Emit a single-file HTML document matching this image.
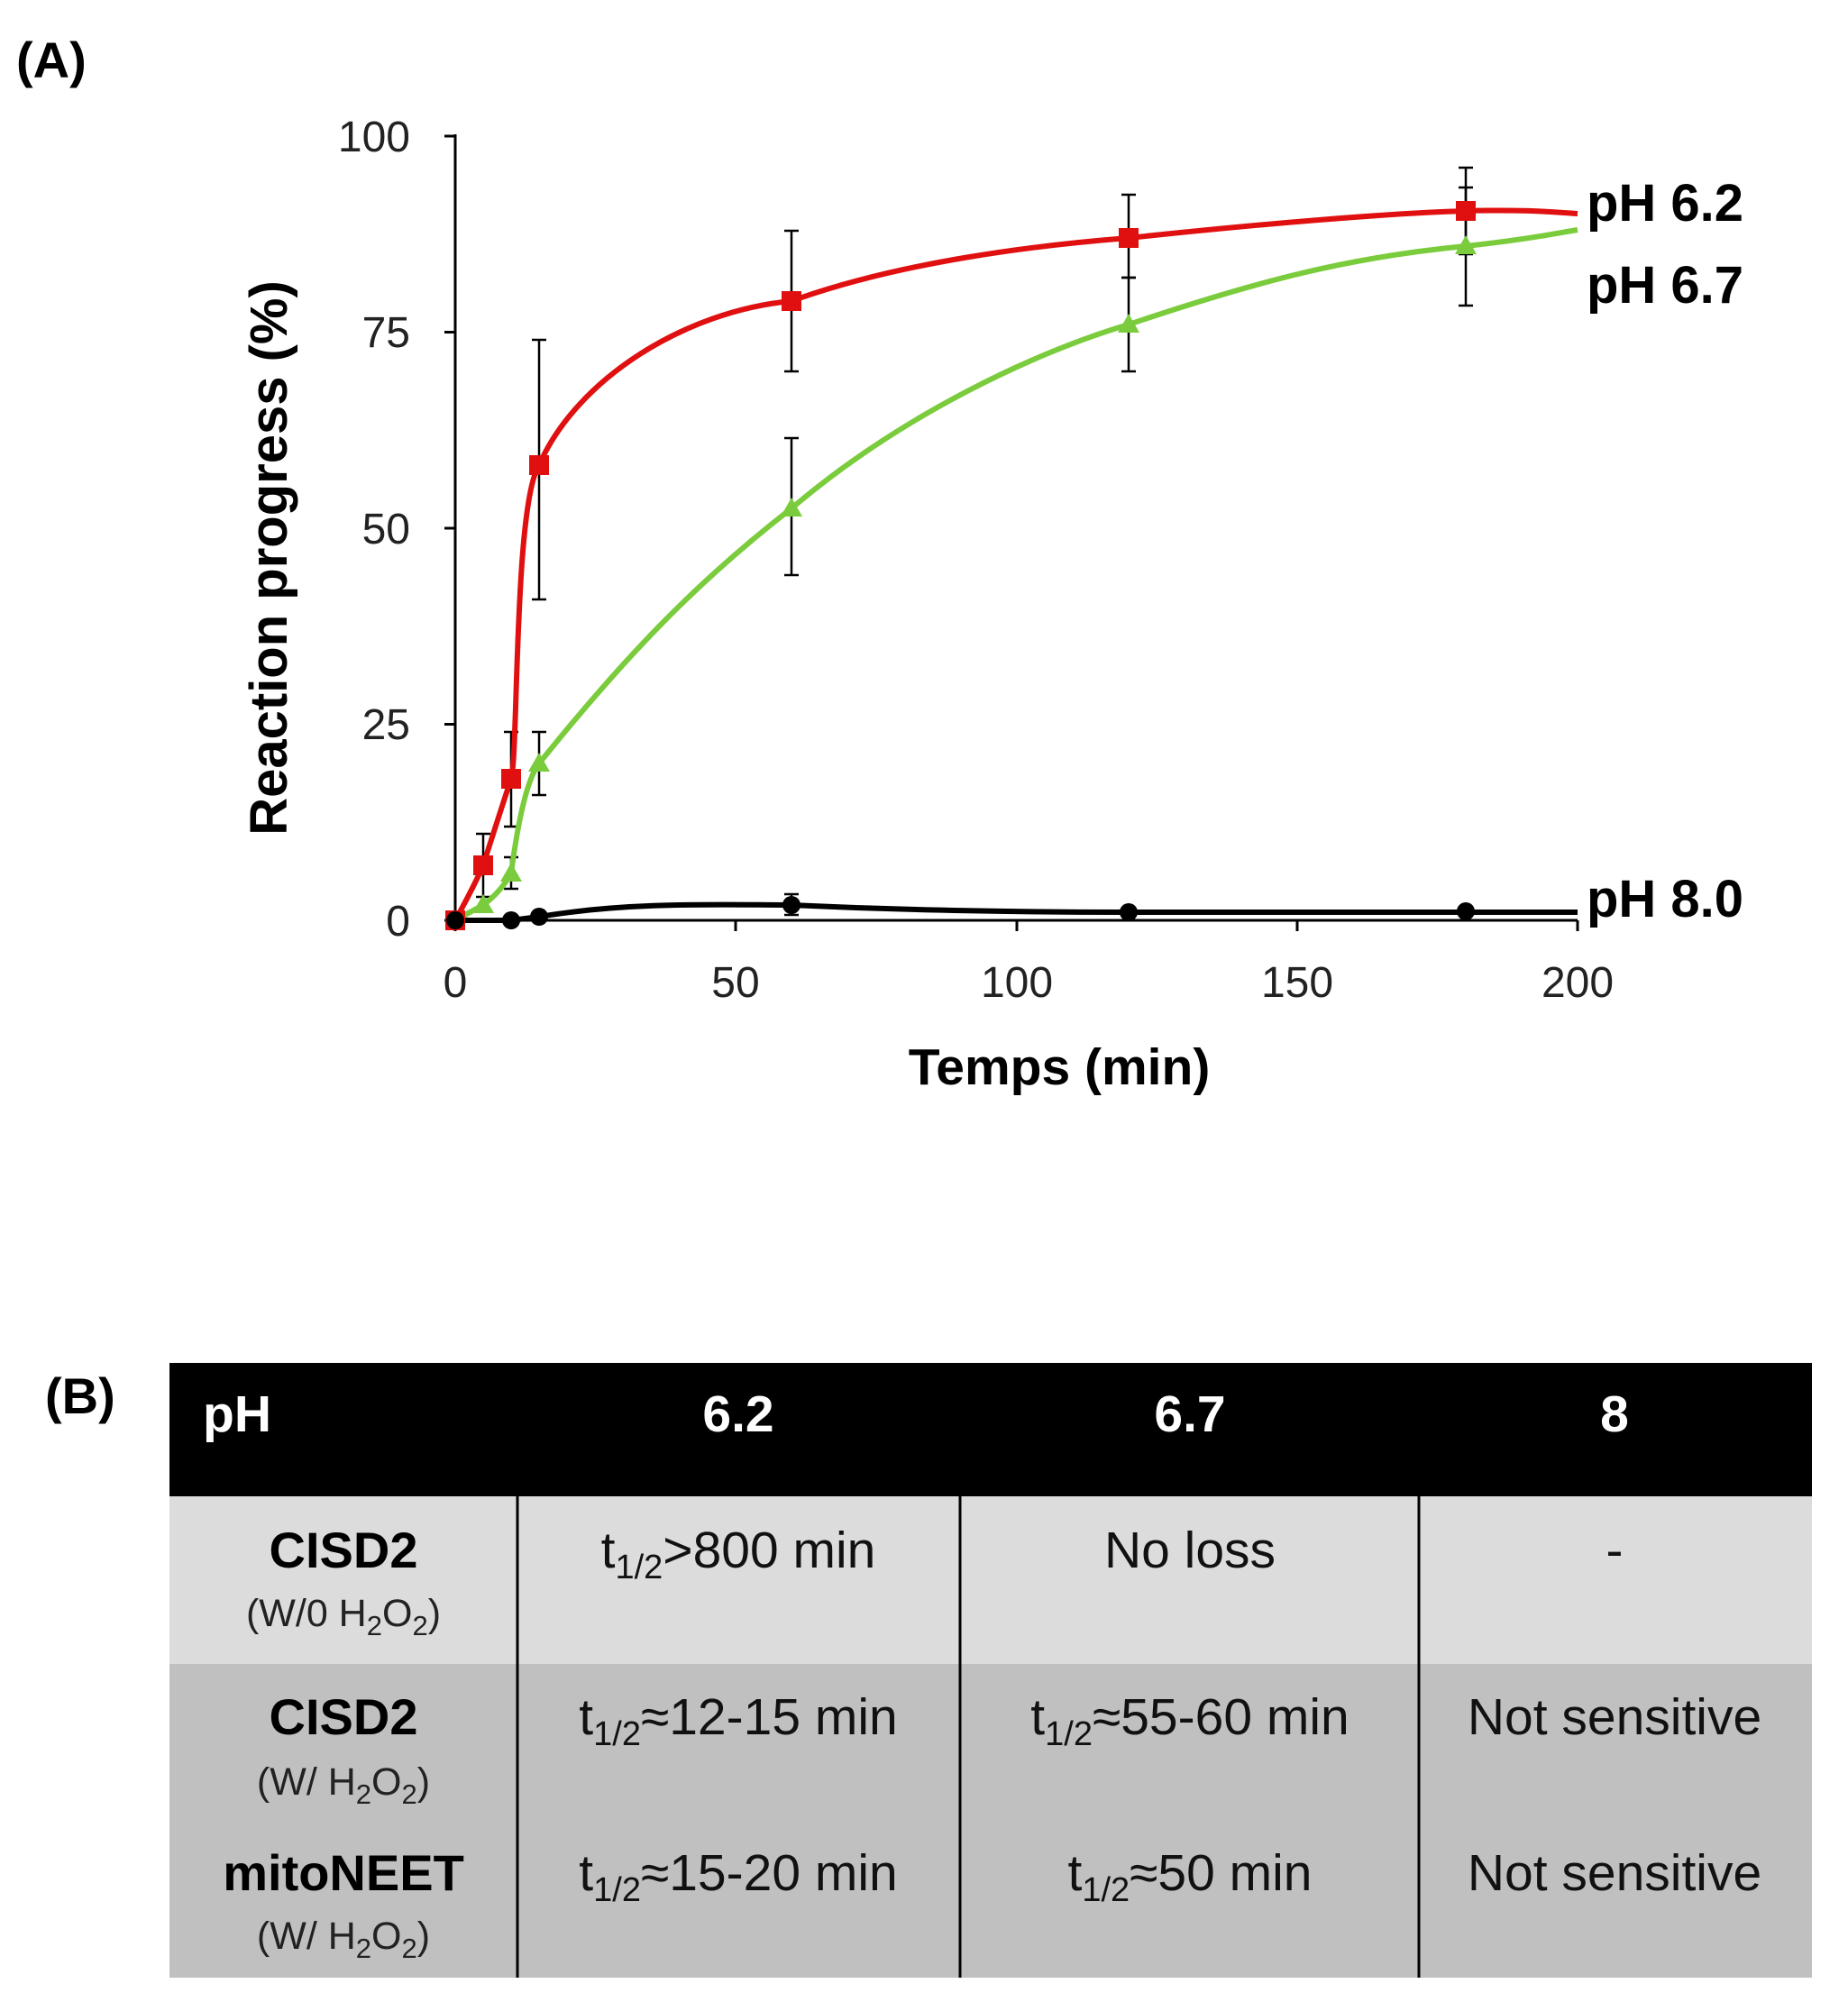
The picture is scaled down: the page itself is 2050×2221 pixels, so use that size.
<!DOCTYPE html>
<html><head><style>
body{margin:0;background:#fff;}
svg{display:block;font-family:"Liberation Sans",Arial,sans-serif;}
</style></head><body>
<svg width="2050" height="2221" viewBox="0 0 2050 2221" xmlns="http://www.w3.org/2000/svg">
<rect width="2050" height="2221" fill="#fff"/>
<text x="18" y="86" font-size="56" font-weight="bold">(A)</text>
<g stroke="#000" stroke-width="3" fill="none">
<line x1="505" y1="149" x2="505" y2="1023"/>
<line x1="503" y1="1021" x2="1750" y2="1021"/>
<line x1="493" y1="151" x2="505" y2="151"/>
<line x1="493" y1="368.5" x2="505" y2="368.5"/>
<line x1="493" y1="586" x2="505" y2="586"/>
<line x1="493" y1="803.5" x2="505" y2="803.5"/>
<line x1="493" y1="1021" x2="505" y2="1021"/>
<line x1="505" y1="1021" x2="505" y2="1033"/>
<line x1="816" y1="1021" x2="816" y2="1033"/>
<line x1="1128" y1="1021" x2="1128" y2="1033"/>
<line x1="1439" y1="1021" x2="1439" y2="1033"/>
<line x1="1750" y1="1021" x2="1750" y2="1033"/>
</g>
<g font-size="48" text-anchor="end" fill="#222">
<text x="455" y="168">100</text>
<text x="455" y="385">75</text>
<text x="455" y="603">50</text>
<text x="455" y="820">25</text>
<text x="455" y="1038">0</text>
</g>
<g font-size="48" text-anchor="middle" fill="#222">
<text x="505" y="1106">0</text>
<text x="816" y="1106">50</text>
<text x="1128" y="1106">100</text>
<text x="1439" y="1106">150</text>
<text x="1750" y="1106">200</text>
</g>
<text x="1175" y="1203" font-size="57" font-weight="bold" text-anchor="middle">Temps (min)</text>
<text transform="translate(318,619) rotate(-90)" font-size="58" font-weight="bold" text-anchor="middle">Reaction progress (%)</text>
<g stroke="#000" stroke-width="2.5" fill="none">
<path d="M536,995V925M528,995h16M528,925h16"/>
<path d="M567,917V812M559,917h16M559,812h16"/>
<path d="M598,665V377M590,665h16M590,377h16"/>
<path d="M878,412V256M870,412h16M870,256h16"/>
<path d="M1252,308V216M1244,308h16M1244,216h16"/>
<path d="M1626,282V186M1618,282h16M1618,186h16"/>
<path d="M567,986V951M559,986h16M559,951h16"/>
<path d="M598,882V812M590,882h16M590,812h16"/>
<path d="M878,638V486M870,638h16M870,486h16"/>
<path d="M1252,412V308M1244,412h16M1244,308h16"/>
<path d="M1626,339V208M1618,339h16M1618,208h16"/>
<path d="M878,1015V992M870,1015h16M870,992h16"/>
</g>
<path d="M505,1021 L536,1004 Q555,990 567,969 Q580,870 598,847 C700,720 780,640 878,564 C1000,460 1150,390 1252,360 C1400,310 1500,285 1626,273 C1700,265 1730,258 1750,255" stroke="#7acc3c" stroke-width="6" fill="none"/>
<path d="M505,1021 Q525,985 536,960 Q555,900 567,864 C575,840 570,560 598,516 C640,420 760,345 878,334 C1000,290 1150,272 1252,264 C1400,248 1550,236 1626,234 C1700,232 1730,236 1750,237" stroke="#e01010" stroke-width="6" fill="none"/>
<path d="M505,1021 L567,1021 L598,1017 C700,1000 800,1004 878,1004 C1000,1010 1150,1012 1252,1012 L1750,1012" stroke="#000" stroke-width="6" fill="none"/>
<g fill="#e01010">
<rect x="525" y="949" width="22" height="22"/><rect x="556" y="853" width="22" height="22"/>
<rect x="587" y="505" width="22" height="22"/><rect x="867" y="323" width="22" height="22"/>
<rect x="1241" y="253" width="22" height="22"/><rect x="1615" y="223" width="22" height="22"/>
<rect x="494" y="1010" width="22" height="22"/>
</g>
<g fill="#7acc3c">
<path d="M536,992l12,21h-24z"/><path d="M567,957l12,21h-24z"/><path d="M598,835l12,21h-24z"/>
<path d="M878,552l12,21h-24z"/><path d="M1252,348l12,21h-24z"/><path d="M1626,261l12,21h-24z"/>
</g>
<g fill="#000">
<circle cx="505" cy="1021" r="10"/><circle cx="567" cy="1021" r="10"/><circle cx="598" cy="1017" r="10"/>
<circle cx="878" cy="1004" r="10"/><circle cx="1252" cy="1012" r="10"/><circle cx="1626" cy="1011" r="10"/>
</g>
<g font-size="58" font-weight="bold">
<text x="1760" y="245">pH 6.2</text>
<text x="1760" y="336">pH 6.7</text>
<text x="1760" y="1017">pH 8.0</text>
</g>
<text x="50" y="1568" font-size="56" font-weight="bold">(B)</text>
<rect x="188" y="1512" width="1822" height="148" fill="#000"/>
<rect x="188" y="1660" width="1822" height="186" fill="#dcdcdc"/>
<rect x="188" y="1846" width="1822" height="348" fill="#c0c0c0"/>
<g stroke="#000" stroke-width="3">
<line x1="574" y1="1660" x2="574" y2="2194"/>
<line x1="1065" y1="1660" x2="1065" y2="2194"/>
<line x1="1574" y1="1660" x2="1574" y2="2194"/>
</g>
<g font-size="57" font-weight="bold" fill="#fff">
<text x="225" y="1588">pH</text>
<text x="819" y="1588" text-anchor="middle">6.2</text>
<text x="1320" y="1588" text-anchor="middle">6.7</text>
<text x="1791" y="1588" text-anchor="middle">8</text>
</g>
<g font-size="56" font-weight="bold" text-anchor="middle">
<text x="381" y="1739">CISD2</text>
<text x="381" y="1924">CISD2</text>
<text x="381" y="2097">mitoNEET</text>
</g>
<g font-size="43" text-anchor="middle" fill="#222">
<text x="381" y="1804">(W/0 H<tspan font-size="31" dy="10">2</tspan><tspan dy="-10">O</tspan><tspan font-size="31" dy="10">2</tspan><tspan dy="-10">)</tspan></text>
<text x="381" y="1991">(W/ H<tspan font-size="31" dy="10">2</tspan><tspan dy="-10">O</tspan><tspan font-size="31" dy="10">2</tspan><tspan dy="-10">)</tspan></text>
<text x="381" y="2162">(W/ H<tspan font-size="31" dy="10">2</tspan><tspan dy="-10">O</tspan><tspan font-size="31" dy="10">2</tspan><tspan dy="-10">)</tspan></text>
</g>
<g font-size="57" text-anchor="middle" fill="#111">
<text x="819" y="1739">t<tspan font-size="38" dy="12">1/2</tspan><tspan dy="-12">&gt;800 min</tspan></text>
<text x="1320" y="1739">No loss</text>
<text x="1791" y="1739">-</text>
<text x="819" y="1924">t<tspan font-size="38" dy="12">1/2</tspan><tspan dy="-12">≈12-15 min</tspan></text>
<text x="1320" y="1924">t<tspan font-size="38" dy="12">1/2</tspan><tspan dy="-12">≈55-60 min</tspan></text>
<text x="1791" y="1924">Not sensitive</text>
<text x="819" y="2097">t<tspan font-size="38" dy="12">1/2</tspan><tspan dy="-12">≈15-20 min</tspan></text>
<text x="1320" y="2097">t<tspan font-size="38" dy="12">1/2</tspan><tspan dy="-12">≈50 min</tspan></text>
<text x="1791" y="2097">Not sensitive</text>
</g>
</svg>
</body></html>
